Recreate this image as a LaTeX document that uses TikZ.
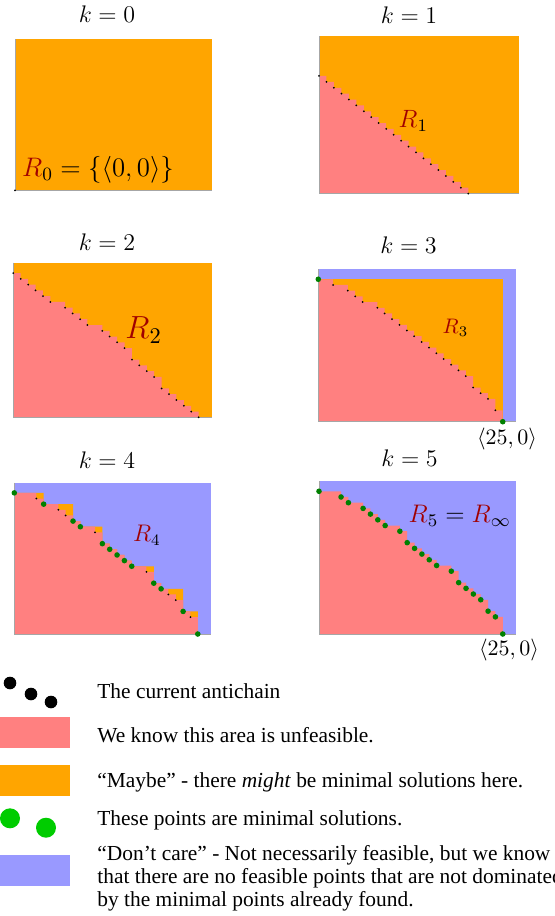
\RequirePackage{fix-cm}
\documentclass[tikz,border=0pt]{standalone}
\usepackage{fontspec}
\setmainfont{Liberation Serif}

\definecolor{unfeasible}{RGB}{255,128,128}
\definecolor{maybe}{RGB}{255,165,0}
\definecolor{dontcare}{RGB}{153,153,255}
\definecolor{mingreen}{RGB}{0,128,0}
\definecolor{keygreen}{RGB}{0,204,0}
\definecolor{rred}{RGB}{160,0,0}

\newcommand{\Rc}{\textcolor{rred}{R}}

% staircase under an antichain (points sorted by x, first x=0, last y=0)
\newcommand{\stairfill}[2]{%
  \fill[#1] (0,0) \foreach \px/\py [remember=\py as \qy (initially 0)] in {#2} {-- (\px,\qy) -- (\px,\py)} -- cycle;}
\newcommand{\stairdots}[3]{%
  \foreach \px/\py in {#3} \node[#1] (#2\px) at (\px,\py) {};}

\tikzset{
  panel/.style n args={4}{shift={(#1,#2)},xscale=#3/26.8,yscale=-#4/26.8},
  axisline/.style={black!35,line width=0.5pt},
  antidot/.style={circle,fill=black,inner sep=0pt,minimum size=1pt},
  mindot/.style={circle,fill=mingreen,inner sep=0pt,minimum size=2.8pt},
  klabel/.style={anchor=base,inner sep=0pt,font=\fontsize{12}{14}\selectfont},
  rlabel/.style={anchor=base west,inner sep=0pt,font=\fontsize{#1}{#1}\selectfont},
  pointlabel/.style={inner sep=0pt,font=\fontsize{11}{13}\selectfont},
  keytext/.style={inner sep=0pt,font=\fontsize{10.7}{11.5}\selectfont},
  keyblack/.style={circle,fill=black,inner sep=0pt,minimum size=6.3pt},
  keygreendot/.style={circle,fill=keygreen,inner sep=0pt,minimum size=10pt},
}

\begin{document}
\begin{tikzpicture}[x=0.5pt,y=-0.5pt]

    \useasboundingbox (0,0) rectangle (555,916);

    % k = 0
    \begin{scope}[panel={15}{190.3}{197}{151.3}]
        \fill[maybe] (0,0) rectangle (26.8,26.8);
        \draw[axisline] (0,26.8) -- (0,0) -- (26.8,0);
        \node[antidot] (a0) at (0,0) {};
    \end{scope}
    \node[klabel] (k0) at (107,22) {$k=0$};
    \node[rlabel=13.4] (r0) at (21.7,176.7) {$\Rc_0=\{\langle 0,0\rangle\}$};

    % k = 1
    \begin{scope}[panel={319}{193.6}{200}{157.6}]
        \fill[maybe] (0,0) rectangle (26.8,26.8);
        \stairfill{unfeasible}{0/20,1/19,2/18,3/17,4/16,5/15,6/14,7/13,8/12,9/11,10/10,11/9,12/8,13/7,14/6,15/5,16/4,17/3,18/2,19/1,20/0}
        \draw[axisline] (0,26.8) -- (0,0) -- (26.8,0);
        \stairdots{antidot}{a1-}{0/20,1/19,2/18,3/17,4/16,5/15,6/14,7/13,8/12,9/11,10/10,11/9,12/8,13/7,14/6,15/5,16/4,17/3,18/2,19/1,20/0}
    \end{scope}
    \node[klabel] (k1) at (409,23.3) {$k=1$};
    \node[rlabel=12.5] (r1) at (398.3,127.3) {$\Rc_1$};

    % k = 2
    \begin{scope}[panel={13.3}{417.3}{198.7}{154.6}]
        \fill[maybe] (0,0) rectangle (26.8,26.8);
        \stairfill{unfeasible}{0/25,1/24,2/23,3/22,4/21,5/20,7/19,8/18,9/17,10/16,12/15,13/14,14/13,15/12,16/10,17/9,18/8,19/7,20/5,21/4,22/3,23/2,24/1,25/0}
        \draw[axisline] (0,26.8) -- (0,0) -- (26.8,0);
        \stairdots{antidot}{a2-}{0/25,1/24,2/23,3/22,4/21,5/20,7/19,8/18,9/17,10/16,12/15,13/14,14/13,15/12,16/10,17/9,18/8,19/7,20/5,21/4,22/3,23/2,24/1,25/0}
    \end{scope}
    \node[klabel] (k2) at (107,250) {$k=2$};
    \node[rlabel=16] (r2) at (125,338.3) {$\Rc_2$};

    % k = 3
    \begin{scope}[panel={318.3}{421.7}{197.7}{152.7}]
        \fill[dontcare] (0,0) rectangle (26.8,26.8);
        \fill[maybe] (0,0) rectangle (25,25);
        \stairfill{unfeasible}{0/25,2/24,4/23,5/22,6/21,8/20,9/19,10/18,11/17,12/16,13/15,14/14,15/13,16/12,17/11,18/10,19/9,20/8,21/6,22/5,23/4,24/2,25/0}
        \draw[axisline] (0,26.8) -- (0,0) -- (26.8,0);
        \stairdots{antidot}{a3-}{2/24,4/23,5/22,6/21,8/20,9/19,10/18,11/17,12/16,13/15,14/14,15/13,16/12,17/11,18/10,19/9,20/8,21/6,22/5,23/4,24/2}
        \stairdots{mindot}{m3-}{0/25,25/0}
    \end{scope}
    \node[klabel] (k3) at (408.5,253.3) {$k=3$};
    \node[rlabel=10.5] (r3) at (442.3,333.3) {$\Rc_3$};
    \node[pointlabel] (p3) at (507,439) {$\langle 25,0\rangle$};

    % k = 4
    \begin{scope}[panel={14.3}{634}{196.7}{151.3}]
        \fill[dontcare] (0,0) rectangle (26.8,26.8);
        \stairfill{maybe}{0/25,4/23,8/20,9/19,12/16,13/15,14/14,15/13,16/12,19/9,20/8,23/4,25/0}
        \stairfill{unfeasible}{0/25,3/24,4/23,6/22,7/21,8/20,9/19,11/18,12/16,13/15,14/14,15/13,16/12,18/11,19/9,20/8,21/7,22/6,23/4,24/3,25/0}
        \draw[axisline] (0,26.8) -- (0,0) -- (26.8,0);
        \stairdots{antidot}{a4-}{3/24,6/22,7/21,11/18,18/11,21/7,22/6,24/3}
        \stairdots{mindot}{m4-}{0/25,4/23,8/20,9/19,12/16,13/15,14/14,15/13,16/12,19/9,20/8,23/4,25/0}
    \end{scope}
    \node[klabel] (k4) at (107,468.3) {$k=4$};
    \node[rlabel=12] (r4) at (132.7,541.7) {$\Rc_4$};

    % k = 5
    \begin{scope}[panel={319}{634}{197}{153}]
        \fill[dontcare] (0,0) rectangle (26.8,26.8);
        \stairfill{unfeasible}{0/25,3/24,4/23,6/22,7/21,8/20,9/19,11/18,12/16,13/15,14/14,15/13,16/12,18/11,19/9,20/8,21/7,22/6,23/4,24/3,25/0}
        \draw[axisline] (0,26.8) -- (0,0) -- (26.8,0);
        \stairdots{mindot}{m5-}{0/25,3/24,4/23,6/22,7/21,8/20,9/19,11/18,12/16,13/15,14/14,15/13,16/12,18/11,19/9,20/8,21/7,22/6,23/4,24/3,25/0}
    \end{scope}
    \node[klabel] (k5) at (409.5,466.7) {$k=5$};
    \node[rlabel=12.7] (r5) at (408.3,522.3) {$\Rc_5=\Rc_\infty$};
    \node[pointlabel] (p5) at (509,650) {$\langle 25,0\rangle$};

    % Legend
    \node[keyblack] (kb1) at (10,683) {};
    \node[keyblack] (kb2) at (31,694) {};
    \node[keyblack] (kb3) at (51,702) {};
    \node[keytext,anchor=base west] (t1) at (97,698.5) {The current antichain};

    \fill[unfeasible] (0,716.7) rectangle (69.5,747.7);
    \node[keytext,anchor=base west] (t2) at (97,742) {We know this area is unfeasible.};

    \fill[maybe] (0,765) rectangle (69.5,795.7);
    \node[keytext,anchor=base west] (t3) at (97,787.5) {“Maybe” - there \emph{might} be minimal solutions here.};

    \node[keygreendot] (kg1) at (10,818.3) {};
    \node[keygreendot] (kg2) at (46,827.7) {};
    \node[keytext,anchor=base west] (t4) at (97,825) {These points are minimal solutions.};

    \fill[dontcare] (0,855) rectangle (69.5,886);
    \node[keytext,anchor=north west,align=left] (t5) at (97,845.3) {“Don’t care” - Not necessarily feasible, but we know\\that there are no feasible points that are not dominated\\by the minimal points already found.};

\end{tikzpicture}
\end{document}
